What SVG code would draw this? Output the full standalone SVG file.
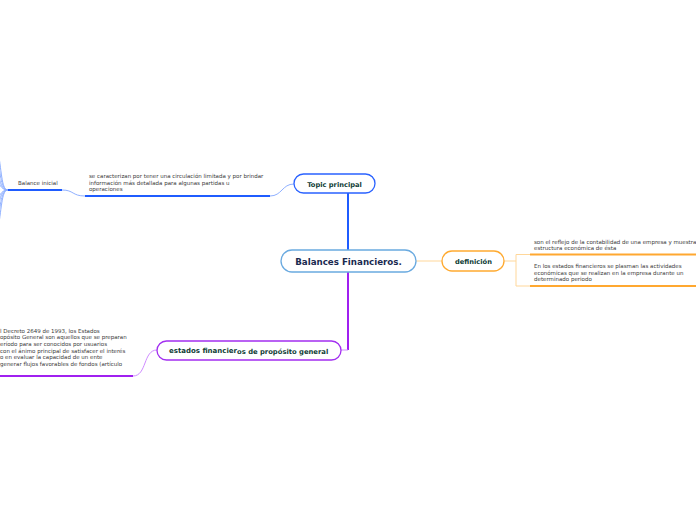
<svg xmlns="http://www.w3.org/2000/svg" width="696" height="520" viewBox="0 0 696 520">
<style>
.node{fill:#fff;stroke-width:1.3}
.t{font-family:"DejaVu Sans",Verdana,sans-serif;font-weight:bold;fill:#0f3d36}
.s{font-family:"DejaVu Sans",Verdana,sans-serif;font-size:5.5px;fill:#3a3a3a}
.lb{fill:none;stroke:#8fb0ff;stroke-width:1}
.b{fill:none;stroke:#1f5cff;stroke-width:2}
.lo{fill:none;stroke:#ffd79a;stroke-width:1}
.o{fill:none;stroke:#ffa830;stroke-width:2}
.lp{fill:none;stroke:#cf8cff;stroke-width:1}
.p{fill:none;stroke:#a020f0;stroke-width:2}
</style>
<rect width="696" height="520" fill="#fff"/>
<g id="connectors">
<line class="b" x1="348" y1="250" x2="348" y2="184"/>
<line class="lb" x1="348" y1="184" x2="375" y2="184" stroke-width="1.5"/>
<path class="lb" d="M294,184 C282,184 282,196 270,196"/>
<line class="b" x1="85" y1="196" x2="270" y2="196"/>
<path class="lb" d="M85,196 C72,196 74,190 62,190"/>
<line class="b" x1="8" y1="190" x2="62" y2="190"/>
<path class="lb" d="M8,190 C2,190 2,176 -2,150"/>
<path class="lb" d="M8,190 C2,190 1,180 -2,160"/>
<path class="lb" d="M8,190 C2,190 0,184 -2,170"/>
<path class="lb" d="M8,190 C2,190 0,186 -2,180"/>
<path class="lb" d="M8,190 C2,190 0,194 -2,200"/>
<path class="lb" d="M8,190 C2,190 0,196 -2,210"/>
<path class="lb" d="M8,190 C2,190 1,200 -2,220"/>
<path class="lb" d="M8,190 C2,190 2,204 -2,230"/>
<line class="lo" x1="416" y1="261" x2="442" y2="261"/>
<line class="lo" x1="504" y1="261" x2="516" y2="261"/>
<path class="lo" d="M530,254.5 H516 V286 H530" stroke-width="1.5"/>
<line class="o" x1="530" y1="254.5" x2="696" y2="254.5"/>
<line class="o" x1="530" y1="286" x2="696" y2="286"/>
<path class="p" d="M348,272 V350"/>
<line class="lp" x1="348" y1="350" x2="341" y2="350" stroke-width="1.5"/>
<path class="lp" d="M157,350 C143,350 147,376 133,376"/>
<line class="p" x1="0" y1="376" x2="133" y2="376"/>
</g>
<g id="central">
<rect class="node" x="281" y="250" width="135" height="22" rx="11" stroke="#6aaae0"/>
<text class="t" x="348.5" y="265" font-size="8.7" text-anchor="middle" style="fill:#1a2a50">Balances Financieros.</text>
</g>
<g id="topic">
<rect class="node" x="294" y="174" width="81" height="19" rx="9.5" stroke="#2a62ff"/>
<text class="t" x="334.5" y="187" font-size="6.7" text-anchor="middle">Topic principal</text>
</g>
<g id="sub-caracterizan">
<text class="s" x="89" y="178">se caracterizan por tener una circulación limitada y por brindar</text>
<text class="s" x="89" y="184.7">información más detallada para algunas partidas u</text>
<text class="s" x="89" y="191.4">operaciones</text>
</g>
<g id="balance-inicial">
<text class="s" x="18" y="185">Balance inicial</text>
</g>
<g id="definicion">
<rect class="node" x="442" y="251" width="62" height="20" rx="10" stroke="#ffaa30"/>
<text class="t" x="473.5" y="263.5" font-size="6.7" text-anchor="middle">definición</text>
</g>
<g id="def-1">
<text class="s" x="534" y="243.5">son el reflejo de la contabilidad de una empresa y muestra</text>
<text class="s" x="534" y="250.2">estructura económica de ésta</text>
</g>
<g id="def-2">
<text class="s" x="534" y="268">En los estados financieros se plasman las actividades</text>
<text class="s" x="534" y="274.7">económicas que se realizan en la empresa durante un</text>
<text class="s" x="534" y="281.4">determinado periodo</text>
</g>
<g id="estados">
<rect class="node" x="157" y="341" width="184" height="19" rx="9.5" stroke="#a22ef0"/>
<text class="t" x="169" y="353" font-size="7"><tspan>estados financier</tspan><tspan font-size="6.8" dy="0.6">os de propósito general</tspan></text>
</g>
<g id="decreto">
<text class="s" x="0" y="332.5">l Decreto 2649 de 1993, los Estados</text>
<text class="s" x="0" y="339.2">opósito General son aquellos que se preparan</text>
<text class="s" x="0" y="345.9">eríodo para ser conocidos por usuarios</text>
<text class="s" x="0" y="352.6">con el ánimo principal de satisfacer el interés</text>
<text class="s" x="0" y="359.3">o en evaluar la capacidad de un ente</text>
<text class="s" x="0" y="366">generar flujos favorables de fondos (artículo</text>
</g>
</svg>
